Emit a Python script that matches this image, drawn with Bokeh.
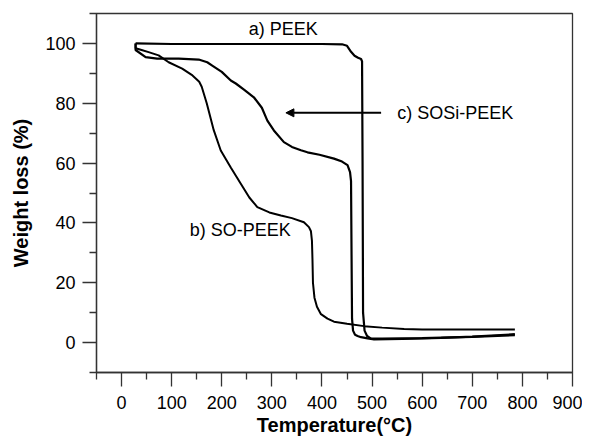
from bokeh.plotting import figure
from bokeh.models import Range1d, FixedTicker, Arrow, NormalHead, Label
from bokeh.embed import file_html
from bokeh.resources import INLINE

# ---- data ----
peek_T = [28, 100, 200, 300, 400, 440, 450, 458, 465, 472, 478, 480, 481, 482, 485, 490, 497, 520, 600, 700, 785]
peek_W = [100, 99.8, 99.8, 99.8, 99.8, 99.7, 99.2, 97.2, 95.9, 95.2, 94.8, 94.0, 60, 10, 4.0, 2.2, 1.4, 1.3, 1.5, 1.9, 2.5]

so_T = [28, 28, 40, 54, 74, 94, 121, 140, 148, 155, 160, 170, 184, 198, 218, 238, 255, 271, 295, 318, 340, 364,
        374, 378, 380, 381, 382, 385, 390, 398, 411, 424, 450, 484, 520, 564, 600, 700, 785]
so_W = [100, 98.4, 97.8, 97.1, 96.0, 93.7, 91.6, 89.5, 88.3, 87.2, 85.5, 80.0, 71.0, 64.2, 58.5, 53.1, 48.5, 45.3, 43.5, 42.5, 41.6, 40.2,
        38.6, 37.2, 34.0, 28.0, 20.0, 15.0, 12.0, 9.5, 8.0, 7.0, 6.3, 5.5, 5.0, 4.5, 4.4, 4.4, 4.4]

sosi_T = [28, 28, 48, 71, 114, 154, 171, 181, 200, 218, 228, 245, 264, 280, 291, 304, 324, 340, 358, 371, 395, 424,
          440, 451, 456, 458, 459, 460, 462, 466, 471, 478, 491, 504, 560, 638, 700, 785]
sosi_W = [100, 97.8, 95.4, 94.9, 94.9, 94.6, 93.7, 92.6, 90.5, 87.6, 86.6, 84.5, 82.0, 78.5, 74.2, 70.9, 67.0, 65.4, 64.3, 63.6, 62.8, 61.5,
          60.5, 59.3, 57.0, 54.0, 30.0, 8.0, 4.0, 2.6, 2.2, 1.8, 1.4, 1.1, 1.2, 1.6, 2.0, 2.8]

x_major = [0, 100, 200, 300, 400, 500, 600, 700, 800, 900]
x_minor = [-50, 50, 150, 250, 350, 450, 550, 650, 750, 850]
y_major = [0, 20, 40, 60, 80, 100]
y_minor = [-10, 10, 30, 50, 70, 90, 110]

FONT = "Liberation Sans"
AX = "#333333"

p = figure(frame_width=476, frame_height=359,
           x_range=Range1d(-50, 900), y_range=Range1d(-10, 110),
           output_backend="svg", toolbar_location=None,
           min_border_left=96, min_border_top=13, min_border_right=10, min_border_bottom=63)

p.grid.visible = False
p.outline_line_color = AX
p.outline_line_width = 1.3
p.background_fill_color = "white"
p.border_fill_color = "white"

p.xaxis.ticker = FixedTicker(ticks=x_major, minor_ticks=x_minor)
p.yaxis.ticker = FixedTicker(ticks=y_major, minor_ticks=y_minor)

for ax in (p.xaxis[0], p.yaxis[0]):
    ax.axis_line_color = AX
    ax.axis_line_width = 1.3
    ax.major_tick_line_color = AX
    ax.minor_tick_line_color = AX
    ax.major_tick_line_width = 1.3
    ax.minor_tick_line_width = 1.3
    ax.major_tick_in = 0
    ax.major_tick_out = 14
    ax.minor_tick_in = 0
    ax.minor_tick_out = 7
    ax.major_label_text_font = FONT
    ax.major_label_text_font_size = "18px"
    ax.major_label_text_color = "black"
    ax.axis_label_text_font = FONT
    ax.axis_label_text_font_size = "20px"
    ax.axis_label_text_font_style = "bold"
    ax.axis_label_text_color = "black"

p.xaxis.axis_label = "Temperature(°C)"
p.yaxis.axis_label = "Weight loss (%)"
p.xaxis.major_label_standoff = 9
p.xaxis.axis_label_standoff = 2
p.yaxis.major_label_standoff = 7
p.yaxis.axis_label_standoff = 10

p.line(peek_T, peek_W, line_color="black", line_width=2.2)
p.line(so_T, so_W, line_color="black", line_width=2.0)
p.line(sosi_T, sosi_W, line_color="black", line_width=2.2)

def lab(x, y, t):
    p.add_layout(Label(x=x, y=y, text=t, text_font=FONT, text_font_size="18px",
                       text_color="black", text_align="left", text_baseline="alphabetic"))

lab(254, 104.7, "a) PEEK")
lab(136, 37.6, "b) SO-PEEK")
lab(550, 76.9, "c) SOSi-PEEK")

p.add_layout(Arrow(end=NormalHead(size=8, fill_color="black", line_color="black", line_width=1),
                   x_start=518, y_start=76.8, x_end=328, y_end=76.8,
                   line_color="black", line_width=2))

open("out.html", "w").write(file_html(p, INLINE))
